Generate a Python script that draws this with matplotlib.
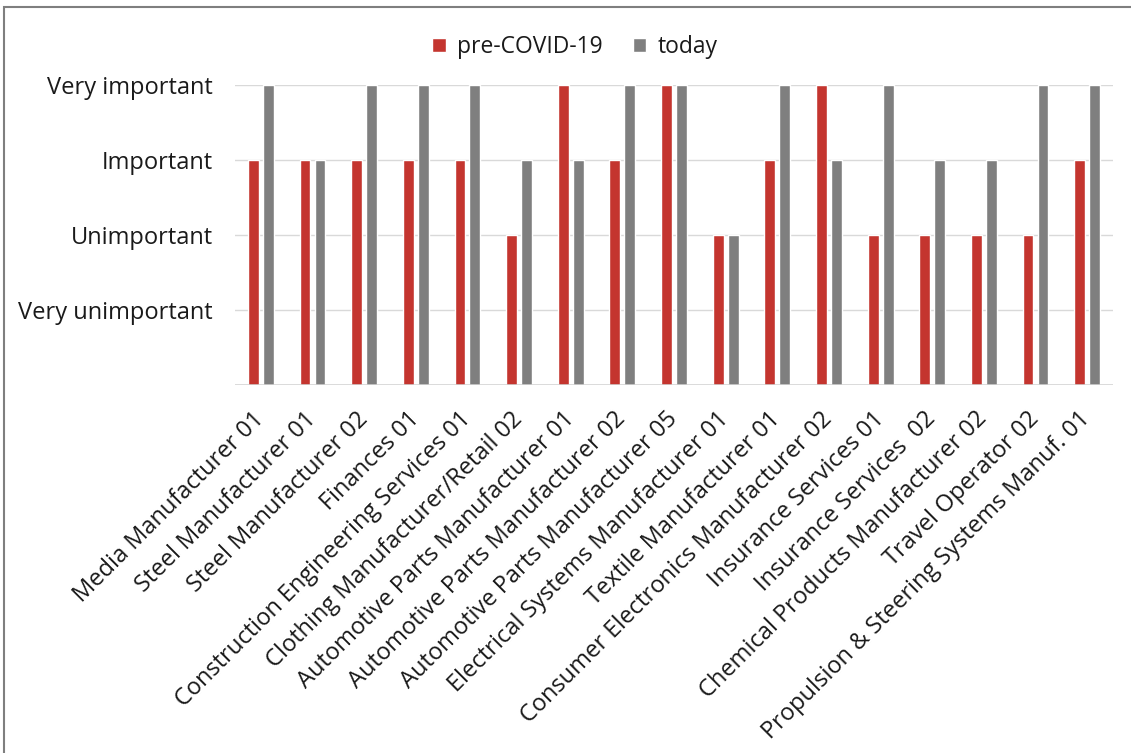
import matplotlib.pyplot as plt
import numpy as np
from matplotlib.patches import Rectangle

plt.rcParams['font.family'] = ['Open Sans', 'DejaVu Sans']

companies = [
    'Media Manufacturer 01',
    'Steel Manufacturer 01',
    'Steel Manufacturer 02',
    'Finances 01',
    'Construction Engineering Services 01',
    'Clothing Manufacturer/Retail 02',
    'Automotive Parts Manufacturer 01',
    'Automotive Parts Manufacturer 02',
    'Automotive Parts Manufacturer 05',
    'Electrical Systems Manufacturer 01',
    'Textile Manufacturer 01',
    'Consumer Electronics Manufacturer 02',
    'Insurance Services 01',
    'Insurance Services  02',
    'Chemical Products Manufacturer 02',
    'Travel Operator 02',
    'Propulsion & Steering Systems Manuf. 01',
]
# 1 = very unimportant ... 4 = very important
pre_covid = [3, 3, 3, 3, 3, 2, 4, 3, 4, 2, 3, 4, 2, 2, 2, 2, 3]
today = [4, 3, 4, 4, 4, 3, 3, 4, 4, 2, 4, 3, 4, 3, 3, 4, 4]
levels = [1, 2, 3, 4]
level_names = ['Very unimportant', 'Unimportant', 'Important', 'Very important']

red = '#C4352F'
grey = '#7F7F7F'

fig = plt.figure(figsize=(11.31, 7.53), dpi=100)
ax = fig.add_axes([235 / 1131, 1 - 385 / 753, 878 / 1131, 300 / 753])

x = np.arange(len(companies))
w = 0.21
off = 0.145
b1 = ax.bar(x - off, pre_covid, w, color=red, edgecolor='white', linewidth=1.0,
            label='pre-COVID-19', zorder=3)
b2 = ax.bar(x + off, today, w, color=grey, edgecolor='white', linewidth=1.0,
            label='today', zorder=3)

ax.set_xlim(-0.5, len(companies) - 0.5)
ax.set_ylim(0, 4)
ax.set_yticks(levels)
ax.set_yticklabels(level_names, fontsize=17, color='#1a1a1a')
for lv in levels:
    ax.axhline(lv, color='#d9d9d9', lw=1, zorder=1)
ax.axhline(0, color='#d0d0d0', lw=1.8, zorder=4)

ax.set_xticks(x)
ax.set_xticklabels(companies, rotation=45, ha='right', va='center',
                   rotation_mode='anchor', fontsize=17, color='#1a1a1a')
ax.tick_params(axis='x', length=0, pad=22)
ax.tick_params(axis='y', length=0, pad=16)
for s in ax.spines.values():
    s.set_visible(False)

fig.legend(handles=[b1, b2], loc='center', bbox_to_anchor=(575 / 1131, 1 - 47 / 753),
           ncol=2, frameon=False, fontsize=16.5, handlelength=0.6, handleheight=0.6,
           handletextpad=0.5, columnspacing=1.3, labelcolor='#1a1a1a')

# outer chart frame (only left and top edges fall inside the image)
fig.patches.append(Rectangle((4 / 1131, -0.05), 1.1, 1 - 7 / 753 + 0.05,
                             transform=fig.transFigure, fill=False,
                             edgecolor='#7f7f7f', lw=1.5))

fig.savefig('out.png', dpi=100)
